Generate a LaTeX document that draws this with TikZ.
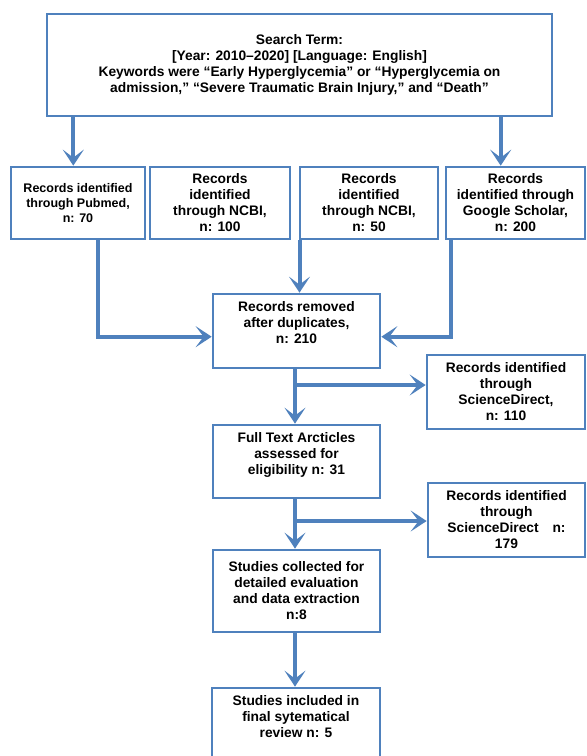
\documentclass[tikz,border=0pt]{standalone}
\usepackage{fontspec}
\setmainfont{Liberation Sans}
\usetikzlibrary{arrows.meta}
\definecolor{bl}{RGB}{79,129,189}
\tikzset{
  box/.style={draw=bl, line width=2.7pt, fill=white, align=center, inner sep=0pt,
    font=\bfseries\fontsize{13.8}{16}\selectfont},
  smalltext/.style={font=\bfseries\fontsize{12.5}{15}\selectfont},
  arr/.style={draw=bl, line width=4pt, -{Stealth[length=16pt,width=21pt,inset=8pt]}}
}
\begin{document}
\begin{tikzpicture}[x=1pt,y=-1pt]
\useasboundingbox (0,0) rectangle (587,756);
\clip (0,0) rectangle (587,756);
\fill[white] (0,0) rectangle (587,756);
\node[box, minimum width=505pt, minimum height=102pt] (top) at (299.5,65)
  {Search Term:\\{[}Year: 2010--2020] [Language: English]\\Keywords were “Early Hyperglycemia” or “Hyperglycemia on\\admission,” “Severe Traumatic Brain Injury,” and “Death”};
\node[box, smalltext, minimum width=134pt, minimum height=72pt] (b1) at (78,203)
  {Records identified\\through Pubmed,\\n: 70};
\node[box, minimum width=140pt, minimum height=72pt] (b2) at (220,203)
  {Records\\identified\\through NCBI,\\n: 100};
\node[box, minimum width=138pt, minimum height=72pt] (b3) at (369,203)
  {Records\\identified\\through NCBI,\\n: 50};
\node[box, minimum width=139pt, minimum height=72pt] (b4) at (515.5,203)
  {Records\\identified through\\Google Scholar,\\n: 200};
\node[box, minimum width=167pt, minimum height=74pt] (rem) at (296.5,331)
  {Records removed\\after duplicates,\\n: 210\rule[-17pt]{0pt}{0pt}};
\node[box, minimum width=158pt, minimum height=74pt] (sd1) at (506,392)
  {Records identified\\through\\ScienceDirect,\\n: 110};
\node[box, minimum width=167pt, minimum height=73pt] (ft) at (296.5,461.5)
  {Full Text Arcticles\\assessed for\\eligibility n: 31\rule[-16pt]{0pt}{0pt}};
\node[box, minimum width=157pt, minimum height=74pt] (sd2) at (506.5,520)
  {Records identified\\through\\ScienceDirect\quad n:\\179};
\node[box, minimum width=167pt, minimum height=82pt] (sc) at (296.5,591)
  {Studies collected for\\detailed evaluation\\and data extraction\\n:8};
\node[box, minimum width=168pt, minimum height=82pt] (fin) at (296,729)
  {Studies included in\\final sytematical\\review n: 5\rule[-25pt]{0pt}{0pt}};
\coordinate (xa) at (73.3,0);
\coordinate (xb) at (500.7,0);
\coordinate (xc) at (98,0);
\coordinate (xd) at (299.5,0);
\coordinate (xe) at (451,0);
\coordinate (xf) at (295,0);
\coordinate (ya) at (0,336.7);
\coordinate (yb) at (0,385);
\coordinate (yc) at (0,521);
\draw[arr] (top.south -| xa) -- (b1.north -| xa);
\draw[arr] (top.south -| xb) -- (b4.north -| xb);
\draw[arr] (b1.south -| xc) |- (rem.west |- ya);
\draw[arr] (b3.south -| xd) -- (rem.north -| xd);
\draw[arr] (b4.south -| xe) |- (rem.east |- ya);
\draw[arr] (rem.south -| xf) -- (ft.north -| xf);
\draw[arr] (xf |- yb) -- (sd1.west |- yb);
\draw[arr] (ft.south -| xf) -- (sc.north -| xf);
\draw[arr] (xf |- yc) -- (sd2.west |- yc);
\draw[arr] (sc.south -| xf) -- (fin.north -| xf);
\end{tikzpicture}
\end{document}
